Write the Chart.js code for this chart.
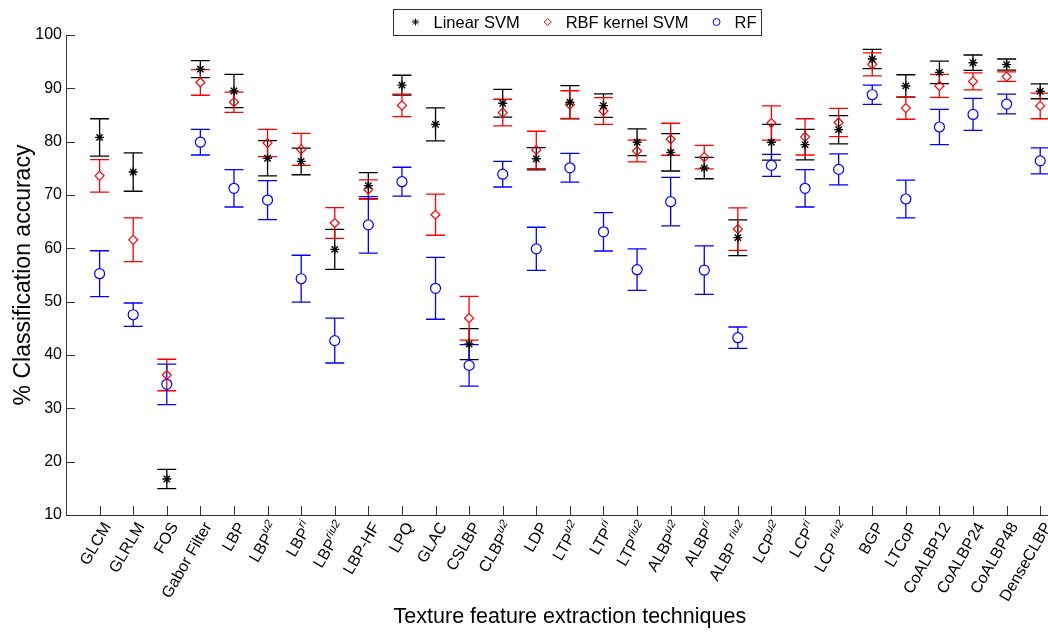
<!DOCTYPE html>
<html lang="en">
<head>
<meta charset="UTF-8">
<title>Classification accuracy by texture feature</title>
<script src="https://cdn.jsdelivr.net/npm/chart.js"></script>
<style>
  html, body { margin: 0; padding: 0; background: #fff; overflow: hidden; }
  #wrap { width: 1080px; height: 639px; }
</style>
</head>
<body>
<div id="wrap"><canvas id="accChart"></canvas></div>
<script>
// categories (text after ^ is drawn as superscript)
const techniques = ['GLCM', 'GLRLM', 'FOS', 'Gabor Filter', 'LBP', 'LBP^u2', 'LBP^ri', 'LBP^riu2', 'LBP-HF', 'LPQ',
  'GLAC', 'CSLBP', 'CLBP^u2', 'LDP', 'LTP^u2', 'LTP^ri', 'LTP^riu2', 'ALBP^u2', 'ALBP^ri', 'ALBP ^riu2',
  'LCP^u2', 'LCP^ri', 'LCP ^riu2', 'BGP', 'LTCoP', 'CoALBP12', 'CoALBP24', 'CoALBP48', 'DenseCLBP'];

const linearSvm = [80.8, 74.3, 16.75, 93.6, 89.5, 76.9, 76.3, 59.8, 71.75, 90.6, 83.25, 42.05, 87.2, 76.8, 87.4,
  86.75, 79.9, 78.0, 75.05, 62.0, 79.9, 79.45, 82.25, 95.5, 90.45, 93.0, 94.8, 94.45, 89.45];
const linearSvmErr = [3.5, 3.6, 1.8, 1.6, 3.1, 3.3, 2.5, 3.75, 2.45, 1.85, 3.1, 2.9, 2.6, 2.1, 3.1,
  2.2, 2.5, 3.5, 2.0, 3.35, 3.35, 2.85, 2.65, 1.8, 2.1, 2.1, 1.45, 1.05, 1.4];

const rbfSvm = [73.6, 61.6, 36.25, 91.1, 87.4, 79.75, 78.55, 64.75, 71.05, 86.8, 66.3, 46.9, 85.45, 78.45, 86.95,
  85.75, 78.25, 80.45, 77.1, 63.6, 83.5, 80.9, 83.6, 94.5, 86.3, 90.45, 91.3, 92.2, 86.7];
const rbfSvmErr = [3.05, 4.1, 2.95, 2.4, 1.9, 2.55, 3.0, 2.9, 1.8, 2.1, 3.85, 4.1, 2.5, 3.5, 2.6,
  2.5, 2.05, 3.0, 2.2, 4.0, 3.2, 3.4, 2.65, 2.15, 2.1, 2.15, 1.6, 0.9, 2.4];

const randomForest = [55.25, 47.55, 34.5, 79.9, 71.25, 69.05, 54.3, 42.7, 64.4, 72.5, 52.5, 38.05, 73.9, 59.9, 75.1,
  63.1, 56.0, 68.75, 55.9, 43.25, 75.55, 71.25, 74.8, 88.8, 69.25, 82.75, 85.1, 87.05, 76.4];
const randomForestErr = [4.3, 2.2, 3.8, 2.4, 3.5, 3.65, 4.4, 4.2, 5.3, 2.7, 5.8, 3.9, 2.4, 4.05, 2.7,
  3.6, 3.9, 4.55, 4.55, 2.0, 2.05, 3.5, 2.9, 1.8, 3.55, 3.3, 3.0, 1.85, 2.45];

const yTicks = [10, 20, 30, 40, 50, 60, 70, 80, 90, 100];

const FONT = '"Liberation Sans", Arial, Helvetica, sans-serif';

function toPoints(values) {
  return values.map((v, i) => ({ x: i + 1, y: v }));
}

// vertical error bars with caps, drawn under the markers
const errorBars = {
  id: 'errorBars',
  beforeDatasetsDraw(chart) {
    const { ctx, chartArea: a, scales: { x, y } } = chart;
    ctx.save();
    ctx.beginPath();
    ctx.rect(a.left, a.top - 2, a.right - a.left, a.bottom - a.top + 2);
    ctx.clip();
    chart.data.datasets.forEach(ds => {
      const gap = ds.pointStyle === 'star' ? 0 : ds.pointRadius;
      ctx.strokeStyle = ds.borderColor;
      ctx.lineWidth = 1.3;
      ds.data.forEach((p, i) => {
        const e = ds.errors[i];
        const px = x.getPixelForValue(p.x);
        const py = y.getPixelForValue(p.y);
        const top = y.getPixelForValue(p.y + e);
        const bot = y.getPixelForValue(p.y - e);
        ctx.beginPath();
        ctx.moveTo(px, top); ctx.lineTo(px, py - gap);
        ctx.moveTo(px, py + gap); ctx.lineTo(px, bot);
        ctx.moveTo(px - 9.5, top); ctx.lineTo(px + 9.5, top);
        ctx.moveTo(px - 9.5, bot); ctx.lineTo(px + 9.5, bot);
        ctx.stroke();
      });
    });
    ctx.restore();
  }
};

// inward tick marks, rotated category labels with superscripts, boxed legend
const axisDecor = {
  id: 'axisDecor',
  afterDraw(chart) {
    const { ctx, chartArea: a, scales: { x, y } } = chart;
    ctx.save();
    ctx.strokeStyle = '#333';
    ctx.lineWidth = 1;
    ctx.beginPath();
    yTicks.forEach(v => {
      const py = Math.round(y.getPixelForValue(v)) + 0.5;
      ctx.moveTo(a.left, py); ctx.lineTo(a.left + 9, py);
    });
    techniques.forEach((t, i) => {
      const px = Math.round(x.getPixelForValue(i + 1)) + 0.5;
      ctx.moveTo(px, a.bottom); ctx.lineTo(px, a.bottom - 9);
    });
    ctx.stroke();

    ctx.fillStyle = '#000';
    ctx.textBaseline = 'middle';
    ctx.textAlign = 'left';
    techniques.forEach((t, i) => {
      const [base, sup] = t.split('^');
      const px = x.getPixelForValue(i + 1);
      ctx.save();
      ctx.translate(px + 8, a.bottom + 9);
      ctx.rotate(-Math.PI / 3);
      ctx.font = '16px ' + FONT;
      const wb = ctx.measureText(base).width;
      let ws = 0;
      if (sup) {
        ctx.font = 'italic 11.5px ' + FONT;
        ws = ctx.measureText(sup).width;
      }
      ctx.font = '16px ' + FONT;
      ctx.fillText(base, -(wb + ws), 0);
      if (sup) {
        ctx.font = 'italic 11.5px ' + FONT;
        ctx.fillText(sup, -ws, -6);
      }
      ctx.restore();
    });

    // legend
    ctx.font = '16.5px ' + FONT;
    const items = chart.data.datasets.map(ds => ({ ds, w: ctx.measureText(ds.label).width }));
    const total = 22 + items.reduce((s, it) => s + 18 + it.w, 0) + 28 * (items.length - 1) + 5;
    const left = 577.5 - total / 2;
    const top = 9, h = 26;
    ctx.strokeStyle = '#333';
    ctx.lineWidth = 1;
    ctx.strokeRect(Math.round(left) + 0.5, top + 0.5, Math.round(total), h);
    let cx = left + 22;
    const cy = top + h / 2;
    items.forEach(it => {
      ctx.strokeStyle = it.ds.borderColor;
      ctx.fillStyle = 'rgba(0,0,0,0)';
      Chart.helpers.drawPoint(ctx, {
        pointStyle: it.ds.pointStyle,
        radius: 3.5,
        rotation: 0,
        borderWidth: 1
      }, cx, cy);
      ctx.fillStyle = '#000';
      ctx.fillText(it.ds.label, cx + 18, cy + 1);
      cx += 18 + it.w + 28;
    });
    ctx.restore();
  }
};

const ctx = document.getElementById('accChart').getContext('2d');
new Chart(ctx, {
  type: 'scatter',
  data: {
    datasets: [
      {
        label: 'Linear SVM',
        data: toPoints(linearSvm),
        errors: linearSvmErr,
        pointStyle: 'star',
        pointRadius: 4.5,
        borderColor: '#000000',
        backgroundColor: 'rgba(0,0,0,0)',
        borderWidth: 1.4
      },
      {
        label: 'RBF kernel SVM',
        data: toPoints(rbfSvm),
        errors: rbfSvmErr,
        pointStyle: 'rectRot',
        pointRadius: 4.5,
        borderColor: '#ff0000',
        backgroundColor: 'rgba(0,0,0,0)',
        borderWidth: 1.2
      },
      {
        label: 'RF',
        data: toPoints(randomForest),
        errors: randomForestErr,
        pointStyle: 'circle',
        pointRadius: 5,
        borderColor: '#0000ff',
        backgroundColor: 'rgba(0,0,0,0)',
        borderWidth: 1.2
      }
    ]
  },
  options: {
    responsive: true,
    maintainAspectRatio: false,
    animation: false,
    layout: { padding: { top: 35, right: 1.5, left: 0, bottom: 0 } },
    plugins: {
      legend: { display: false },
      tooltip: { enabled: false }
    },
    scales: {
      x: {
        type: 'linear',
        min: 0,
        max: 30,
        ticks: { display: false, stepSize: 1 },
        grid: { display: false, drawTicks: false },
        border: { display: true, color: '#333', width: 1 },
        title: {
          display: true,
          text: 'Texture feature extraction techniques',
          color: '#000',
          font: { family: FONT, size: 21.5 },
          padding: { top: 0, bottom: 9 }
        },
        afterFit(scale) { scale.height = 124; }
      },
      y: {
        min: 10,
        max: 100,
        afterBuildTicks(scale) { scale.ticks = yTicks.map(v => ({ value: v })); },
        ticks: { color: '#000', padding: 4, font: { family: FONT, size: 16 } },
        grid: { display: false, drawTicks: false },
        border: { display: true, color: '#333', width: 1 },
        title: {
          display: true,
          text: '% Classification accuracy',
          color: '#000',
          font: { family: FONT, size: 23 },
          padding: { top: 10, bottom: 0 }
        },
        afterFit(scale) { scale.width = 66; }
      }
    }
  },
  plugins: [errorBars, axisDecor]
});
</script>
</body>
</html>
